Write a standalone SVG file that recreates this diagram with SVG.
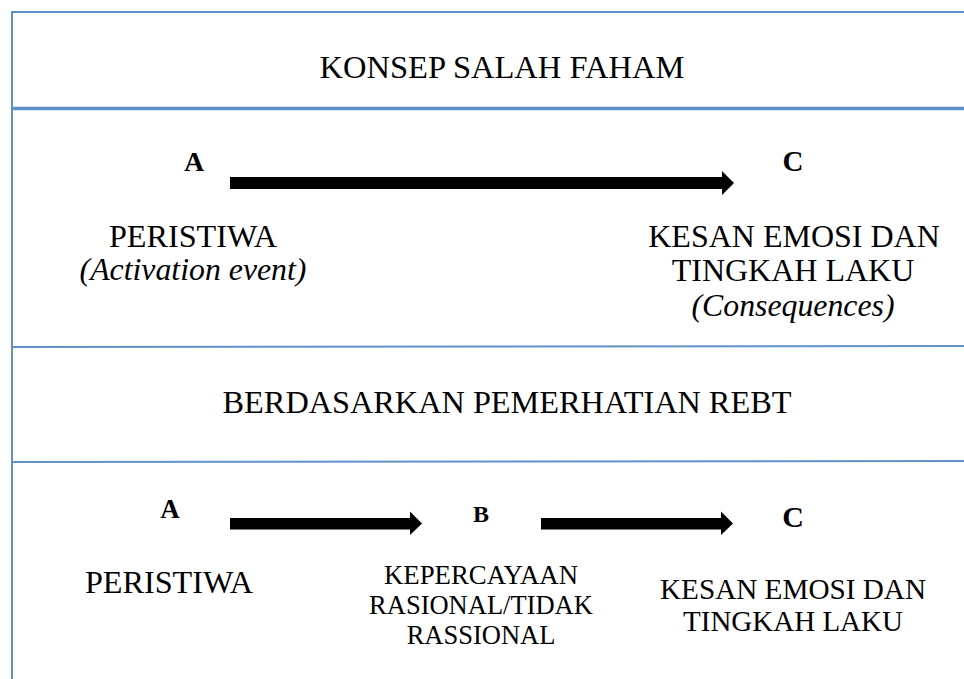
<svg xmlns="http://www.w3.org/2000/svg" width="964" height="679" viewBox="0 0 964 679">
<style>
.ln{stroke:#5f92c9;fill:none}
.t{font-family:"Liberation Serif",serif;fill:#000;text-anchor:middle}
.b{font-weight:bold}
.i{font-style:italic}
.ar{fill:#000}
</style>
<rect width="964" height="679" fill="#fff"/>
<g id="frame">
<line class="ln" x1="12" y1="12" x2="964" y2="12" stroke-width="2"/>
<line class="ln" x1="12" y1="11" x2="12" y2="679" stroke-width="2"/>
<line class="ln" x1="12" y1="108.5" x2="964" y2="108.5" stroke-width="3.5"/>
<line class="ln" x1="12" y1="347" x2="964" y2="346" stroke-width="2"/>
<line class="ln" x1="12" y1="462" x2="964" y2="461" stroke-width="2"/>
</g>
<g id="title1"><text class="t" x="502" y="78" font-size="32.5">KONSEP SALAH FAHAM</text></g>
<g id="title2"><text class="t" x="507" y="413" font-size="32.3">BERDASARKAN PEMERHATIAN REBT</text></g>
<g id="nodeA1">
<text class="t b" x="194" y="171" font-size="28">A</text>
<text class="t" x="193" y="247" font-size="32.2">PERISTIWA</text>
<text class="t i" x="193" y="280" font-size="31.8">(Activation event)</text>
</g>
<g id="nodeC1">
<text class="t b" x="793" y="171" font-size="29">C</text>
<text class="t" x="794" y="247" font-size="32">KESAN EMOSI DAN</text>
<text class="t" x="793" y="281" font-size="32">TINGKAH LAKU</text>
<text class="t i" x="793" y="316" font-size="31.8">(Consequences)</text>
</g>
<g id="nodeA2">
<text class="t b" x="170" y="518" font-size="27">A</text>
<text class="t" x="169" y="593" font-size="32.2">PERISTIWA</text>
</g>
<g id="nodeB2">
<text class="t b" x="481" y="522" font-size="24">B</text>
<text class="t" x="481" y="584" font-size="26.8">KEPERCAYAAN</text>
<text class="t" x="481" y="614" font-size="26.5">RASIONAL/TIDAK</text>
<text class="t" x="481" y="644" font-size="26.5">RASSIONAL</text>
</g>
<g id="nodeC2">
<text class="t b" x="793" y="527" font-size="30">C</text>
<text class="t" x="793" y="599" font-size="29.2">KESAN EMOSI DAN</text>
<text class="t" x="793" y="631" font-size="29">TINGKAH LAKU</text>
</g>
<g id="connectors">
<polygon class="ar" points="230,177 722,177 722,171 734,183 722,195 722,189 230,189"/>
<polygon class="ar" points="230,518 410,518 410,511.5 422,523.5 410,535 410,529.5 230,529.5"/>
<polygon class="ar" points="541,518 721,518 721,511.5 733,523.5 721,535 721,529.5 541,529.5"/>
</g>
</svg>
